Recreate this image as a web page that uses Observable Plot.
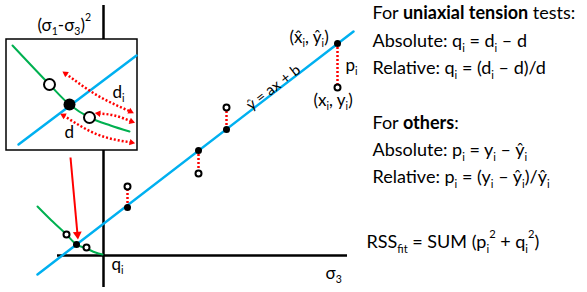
<!DOCTYPE html>
<html><head><meta charset="utf-8">
<script src="https://cdn.jsdelivr.net/npm/d3@7"></script>
<script src="https://cdn.jsdelivr.net/npm/@observablehq/plot@0.6"></script>
<style>html,body{margin:0;padding:0;background:#fff;}</style>
</head><body><div id="chart"></div>
<script>
const BLUE = "#00B0F0", GREEN = "#00B050", RED = "#FF0000";

// main axes (σ3 horizontal, (σ1-σ3)^2 vertical), origin at 0,0
const axisH = [{x1: -46, x2: 244, y: 0}];
const axisV = [{x: 0, y1: -32, y2: 250}];
// fitted line ŷ = ax + b
const fitLine = [{x: -66, y: -19}, {x: 250, y: 224}];
// green curve (uniaxial tension data)
const greenCurve = [{x: -66, y: 49}, {x: -52, y: 35}, {x: -37, y: 21}, {x: -27, y: 11}, {x: -17, y: 7}, {x: -8, y: 3}, {x: -1, y: 1}];
// fitted points (x̂i, ŷi)
const fitPts = [{x: 234, y: 212}, {x: 123, y: 126}, {x: 95, y: 105}, {x: 24, y: 48}, {x: -27, y: 11}];
// observed points (xi, yi)
const obsPts = [{x: 234, y: 168}, {x: 123, y: 148}, {x: 95, y: 82}, {x: 24, y: 69}, {x: -37, y: 21}, {x: -17, y: 8}];
// residuals p_i
const residuals = [{x: 234, y1: 212, y2: 168}, {x: 123, y1: 126, y2: 148}, {x: 95, y1: 105, y2: 82}, {x: 24, y1: 48, y2: 69}];
// arrow from inset to the zoomed region
const mainArrow = [{x1: -33, y1: 98, x2: -26, y2: 21}];

// inset (zoomed view)
const insetBox = [{x1: -97, x2: 34, y1: 105, y2: 216}];
const insetFit = [{x: -85, y: 111}, {x: 33, y: 200}];
const insetGreen = [{x: -91, y: 210}, {x: -54, y: 171}, {x: -34, y: 151}, {x: -14, y: 138}, {x: 7, y: 130}, {x: 26, y: 124}];
const insetObs = [{x: -54, y: 171}, {x: -14, y: 138}];
const insetFitPt = [{x: -34, y: 151}];
const distArrows = [
  {id: "di", x: -38, y: 182}, {id: "di", x: -6, y: 160}, {id: "di", x: 27, y: 144},
  {id: "di2", x: -5, y: 142}, {id: "di2", x: 11, y: 140}, {id: "di2", x: 28, y: 134},
  {id: "d", x: -40, y: 140}, {id: "d", x: -6, y: 121}, {id: "d", x: 28, y: 113}
];

// texts
const labels = [
  {x: -66, y: 225, t: "(σ_{1}-σ_{3})^{2}"},
  {x: 9, y: 158, t: "d_{i}"},
  {x: -39, y: 118, t: "d"},
  {x: 8, y: -14, t: "q_{i}"},
  {x: 222, y: -23, t: "σ_{3}"},
  {x: 186, y: 213, t: "(x\u0302_{i}, ŷ_{i})"},
  {x: 242, y: 185, t: "p_{i}"},
  {x: 210, y: 150, t: "(x_{i}, y_{i})"}
];
const lineLabel = [{x: 170, y: 168, t: "ŷ = ax + b"}];
const textLines = [
  {x: 269, y: 237, t: "For **uniaxial tension** tests:"},
  {x: 269, y: 209, t: "Absolute: q_{i} = d_{i} – d"},
  {x: 269, y: 182, t: "Relative: q_{i} = (d_{i} – d)/d"},
  {x: 269, y: 127, t: "For **others**:"},
  {x: 269, y: 100, t: "Absolute: p_{i} = y_{i} – ŷ_{i}"},
  {x: 269, y: 73, t: "Relative: p_{i} = (y_{i} – ŷ_{i})/ŷ_{i}"},
  {x: 263, y: 8, t: "RSS_{fit} = SUM (p_{i}^{2} + q_{i}^{2})"}
];

// arrow heads derived from the arrow data
function ang(from, to) { return Math.atan2(to.x - from.x, to.y - from.y) * 180 / Math.PI; }
const heads = [];
for (const id of [...new Set(distArrows.map(d => d.id))]) {
  const p = distArrows.filter(d => d.id === id), n = p.length;
  heads.push({x: p[0].x, y: p[0].y, a: ang(p[1], p[0])});
  heads.push({x: p[n - 1].x, y: p[n - 1].y, a: ang(p[n - 2], p[n - 1])});
}
const mainHead = mainArrow.map(d => ({x: d.x2, y: d.y2, a: ang({x: d.x1, y: d.y1}, {x: d.x2, y: d.y2})}));

const FONT = "Lato, 'DejaVu Sans', sans-serif";
const svg = Plot.plot({
  width: 587, height: 292,
  marginTop: 0, marginRight: 0, marginBottom: 0, marginLeft: 0,
  x: {domain: [-103, 484], axis: null},
  y: {domain: [-37, 255], axis: null},
  style: {background: "white", fontFamily: FONT},
  marks: [
    Plot.ruleY(axisH, {y: "y", x1: "x1", x2: "x2", stroke: "black", strokeWidth: 2.5}),
    Plot.ruleX(axisV, {x: "x", y1: "y1", y2: "y2", stroke: "black", strokeWidth: 2.5}),
    Plot.line(greenCurve, {x: "x", y: "y", stroke: GREEN, strokeWidth: 2, curve: "catmull-rom"}),
    Plot.line(fitLine, {x: "x", y: "y", stroke: BLUE, strokeWidth: 2.5}),
    Plot.ruleX(residuals, {x: "x", y1: "y1", y2: "y2", stroke: RED, strokeWidth: 2.5, strokeDasharray: "2,2", strokeLinecap: "butt"}),
    Plot.dot(obsPts, {x: "x", y: "y", r: 3, fill: "white", stroke: "black", strokeWidth: 2}),
    Plot.dot(fitPts, {x: "x", y: "y", r: 3.5, fill: "black"}),
    Plot.link(mainArrow, {x1: "x1", y1: "y1", x2: "x2", y2: "y2", stroke: RED, strokeWidth: 2}),
    Plot.dot(mainHead, {x: "x", y: "y", rotate: "a", symbol: "triangle", r: 3.3, fill: RED}),
    Plot.rect(insetBox, {x1: "x1", x2: "x2", y1: "y1", y2: "y2", fill: "white", stroke: "black", strokeWidth: 1.5}),
    Plot.line(insetFit, {x: "x", y: "y", stroke: BLUE, strokeWidth: 2.5}),
    Plot.line(insetGreen, {x: "x", y: "y", stroke: GREEN, strokeWidth: 2, curve: "catmull-rom"}),
    Plot.line(distArrows, {x: "x", y: "y", z: "id", stroke: RED, strokeWidth: 2.5, strokeDasharray: "2,2", strokeLinecap: "butt", curve: "natural"}),
    Plot.dot(heads, {x: "x", y: "y", rotate: "a", symbol: "triangle", r: 2.4, fill: RED}),
    Plot.dot(insetObs, {x: "x", y: "y", r: 5.5, fill: "white", stroke: "black", strokeWidth: 2}),
    Plot.dot(insetFitPt, {x: "x", y: "y", r: 6, fill: "black"}),
    Plot.text(labels, {x: "x", y: "y", text: "t", textAnchor: "start", lineAnchor: "bottom", fontSize: 17, fill: "black"}),
    Plot.text(lineLabel, {x: "x", y: "y", text: "t", rotate: -37.6, fontSize: 15, fill: "black"}),
    Plot.text(textLines, {x: "x", y: "y", text: "t", textAnchor: "start", lineAnchor: "bottom", fontSize: 18, fill: "black"})
  ]
});
document.getElementById("chart").appendChild(svg);

// turn _{..}, ^{..} and **..** markup into tspans
function parseRich(s) {
  const segs = []; let i = 0, buf = "", bold = false;
  const push = (t, mode) => { if (t) segs.push({t, mode, bold}); };
  while (i < s.length) {
    if (s.startsWith("**", i)) { push(buf, "n"); buf = ""; bold = !bold; i += 2; continue; }
    if ((s[i] === "_" || s[i] === "^") && s[i + 1] === "{") {
      push(buf, "n"); buf = "";
      const j = s.indexOf("}", i);
      push(s.slice(i + 2, j), s[i] === "_" ? "sub" : "sup");
      i = j + 1; continue;
    }
    buf += s[i]; i++;
  }
  push(buf, "n");
  return segs;
}
d3.select(svg).selectAll("text").each(function () {
  const s = this.textContent;
  if (!/[_^]\{|\*\*/.test(s)) return;
  const F = parseFloat(getComputedStyle(this).fontSize) || 16;
  const segs = parseRich(s);
  this.textContent = "";
  let cur = 0;
  for (const g of segs) {
    const shift = g.mode === "sub" ? 0.28 * F : g.mode === "sup" ? -0.55 * F : 0;
    const ts = d3.select(this).append("tspan").text(g.t);
    if (shift !== cur) ts.attr("dy", (shift - cur) + "px");
    cur = shift;
    if (g.mode !== "n") ts.attr("font-size", (0.62 * F) + "px");
    if (g.bold) ts.attr("font-weight", "bold");
  }
});
</script>
</body></html>
